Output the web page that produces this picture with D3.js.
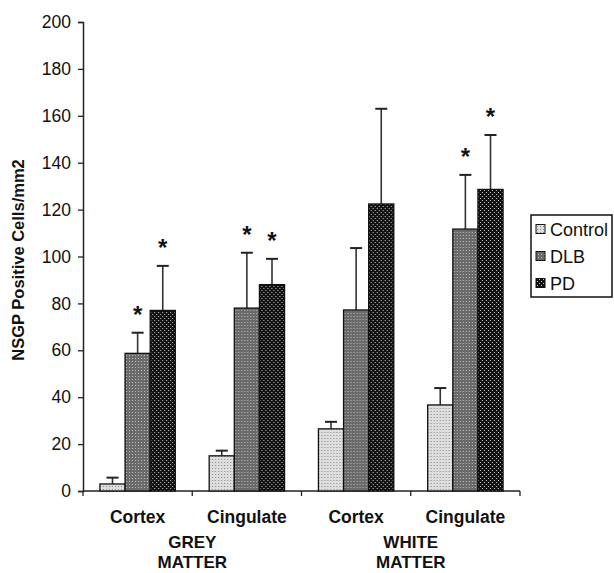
<!DOCTYPE html>
<html>
<head>
<meta charset="utf-8">
<style>
    body { margin: 0; background: #fff; }
    text { font-family: Arial, "Liberation Sans", sans-serif; fill: #111; }
    .tick-label { font-size: 17.5px; }
    .legend-label { font-size: 18px; }
    .cat-label { font-size: 17.5px; font-weight: bold; }
    .matter-label { font-size: 17px; font-weight: bold; }
    .axis-title { font-size: 16.5px; font-weight: bold; }
    .star { font-size: 24px; font-weight: bold; }
</style>
</head>
<body>
<svg id="chart" width="614" height="573"></svg>
<script src="https://d3js.org/d3.v7.min.js"></script>
<script>
    // data
    const groups = ["grey-cortex", "grey-cingulate", "white-cortex", "white-cingulate"]
    const groupLabels = ["Cortex", "Cingulate", "Cortex", "Cingulate"]
    const matterLabels = [["GREY", "MATTER"], ["WHITE", "MATTER"]]
    const series = ["Control", "DLB", "PD"]

    const controlMean = [3, 15, 26.5, 36.7]
    const dlbMean = [58.7, 78, 77.2, 111.7]
    const pdMean = [77, 88, 122.4, 128.6]

    const controlErr = [2.7, 2.2, 3, 7.2]
    const dlbErr = [8.8, 23.6, 26.4, 23.1]
    const pdErr = [19, 11, 40.6, 23.2]

    // significant vs control (asterisk)
    const dlbSig = [1, 1, 0, 1]
    const pdSig = [1, 1, 0, 1]

    const yTicks = [0, 20, 40, 60, 80, 100, 120, 140, 160, 180, 200]

    const means = { Control: controlMean, DLB: dlbMean, PD: pdMean }
    const errs = { Control: controlErr, DLB: dlbErr, PD: pdErr }
    const sigs = { Control: [0, 0, 0, 0], DLB: dlbSig, PD: pdSig }

    let svg = d3.select("#chart")

    // hatch-like fills
    let defs = svg.append("defs")

    let pCtrl = defs.append("pattern").attr("id", "p-Control")
        .attr("width", 3).attr("height", 3).attr("patternUnits", "userSpaceOnUse")
    pCtrl.append("rect").attr("width", 3).attr("height", 3).attr("fill", "#dedede")
    pCtrl.append("rect").attr("width", 1).attr("height", 1).attr("fill", "#888")

    let pDlb = defs.append("pattern").attr("id", "p-DLB")
        .attr("width", 3).attr("height", 3).attr("patternUnits", "userSpaceOnUse")
    pDlb.append("rect").attr("width", 3).attr("height", 3).attr("fill", "#6a6a6a")
    pDlb.append("rect").attr("x", 1).attr("y", 1).attr("width", 1).attr("height", 1).attr("fill", "#bdbdbd")

    let pPd = defs.append("pattern").attr("id", "p-PD")
        .attr("width", 4).attr("height", 4).attr("patternUnits", "userSpaceOnUse")
    pPd.append("rect").attr("width", 4).attr("height", 4).attr("fill", "#111")
    pPd.append("rect").attr("x", 0).attr("y", 0).attr("width", 1).attr("height", 1).attr("fill", "#c8c8c8")
    pPd.append("rect").attr("x", 2).attr("y", 2).attr("width", 1).attr("height", 1).attr("fill", "#c8c8c8")

    // scales
    let y = d3.scaleLinear().domain([0, 200]).range([491, 22])
    let x = d3.scaleBand().domain(groups).range([83, 520]).paddingInner(0.31).paddingOuter(0.155)
    let xs = d3.scaleBand().domain(series).range([0, x.bandwidth()])

    // y axis
    let yAxis = d3.axisLeft(y).tickValues(yTicks).tickSize(5).tickFormat(d3.format("d"))
    let gy = svg.append("g").attr("transform", "translate(83,0)").call(yAxis)
    gy.select(".domain").attr("stroke", "#222").attr("stroke-width", 1.5)
    gy.selectAll(".tick line").attr("stroke", "#222").attr("stroke-width", 1.3)
    gy.selectAll(".tick text").attr("class", "tick-label").attr("x", -12)
        .attr("font-family", null).attr("font-size", null)

    // x axis (ticks at the group boundaries)
    let bounds = [83].concat(groups.map(g => x(g) + x.bandwidth() + x.step() * x.paddingInner() / 2))
    bounds[bounds.length - 1] = 520
    svg.append("line").attr("x1", 83).attr("x2", 520).attr("y1", y(0)).attr("y2", y(0))
        .attr("stroke", "#222").attr("stroke-width", 1.5)
    svg.selectAll(".xtick").data(bounds).enter().append("line")
        .attr("x1", d => d).attr("x2", d => d).attr("y1", y(0)).attr("y2", y(0) + 5)
        .attr("stroke", "#222").attr("stroke-width", 1.3)

    // bars
    let rows = []
    groups.forEach((g, i) => {
        series.forEach(s => {
            rows.push({ g: g, s: s, v: means[s][i], e: errs[s][i], sig: sigs[s][i] })
        })
    })

    let bar = svg.selectAll(".bar").data(rows).enter().append("g")
        .attr("transform", d => "translate(" + (x(d.g) + xs(d.s)) + ",0)")

    // error bars
    bar.append("line")
        .attr("x1", xs.bandwidth() / 2).attr("x2", xs.bandwidth() / 2)
        .attr("y1", d => y(d.v)).attr("y2", d => y(d.v + d.e))
        .attr("stroke", "#333").attr("stroke-width", 1.6)
    bar.append("line")
        .attr("x1", xs.bandwidth() / 2 - 6).attr("x2", xs.bandwidth() / 2 + 6)
        .attr("y1", d => y(d.v + d.e)).attr("y2", d => y(d.v + d.e))
        .attr("stroke", "#222").attr("stroke-width", 2)

    bar.append("rect")
        .attr("x", 0).attr("width", xs.bandwidth())
        .attr("y", d => y(d.v)).attr("height", d => y(0) - y(d.v))
        .attr("fill", d => "url(#p-" + d.s + ")")
        .attr("stroke", "#111").attr("stroke-width", 1.3)

    bar.filter(d => d.sig).append("text").attr("class", "star")
        .attr("x", xs.bandwidth() / 2).attr("y", d => y(d.v + d.e) - 10)
        .attr("text-anchor", "middle").text("*")

    // category labels
    svg.selectAll(".cat").data(groups).enter().append("text").attr("class", "cat-label")
        .attr("x", d => x(d) + x.bandwidth() / 2).attr("y", 523)
        .attr("text-anchor", "middle").text((d, i) => groupLabels[i])

    matterLabels.forEach((lines, i) => {
        let cx = (bounds[i * 2] + bounds[i * 2 + 2]) / 2
        lines.forEach((t, j) => {
            svg.append("text").attr("class", "matter-label")
                .attr("x", cx).attr("y", 548 + j * 20)
                .attr("text-anchor", "middle").text(t)
        })
    })

    // y title
    svg.append("text").attr("class", "axis-title")
        .attr("transform", "translate(24,260) rotate(-90)")
        .attr("text-anchor", "middle").text("NSGP Positive Cells/mm2")

    // legend
    let legend = svg.append("g").attr("transform", "translate(531,215)")
    legend.append("rect").attr("width", 81).attr("height", 82)
        .attr("fill", "#fff").attr("stroke", "#111").attr("stroke-width", 1.5)
    let item = legend.selectAll(".item").data(series).enter().append("g")
        .attr("transform", (d, i) => "translate(0," + (14 + i * 27) + ")")
    item.append("rect").attr("x", 5).attr("y", -4.5).attr("width", 9).attr("height", 9)
        .attr("fill", d => "url(#p-" + d + ")").attr("stroke", "#111").attr("stroke-width", 1)
    item.append("text").attr("class", "legend-label").attr("x", 19).attr("y", 6.5).text(d => d)
</script>
</body>
</html>
